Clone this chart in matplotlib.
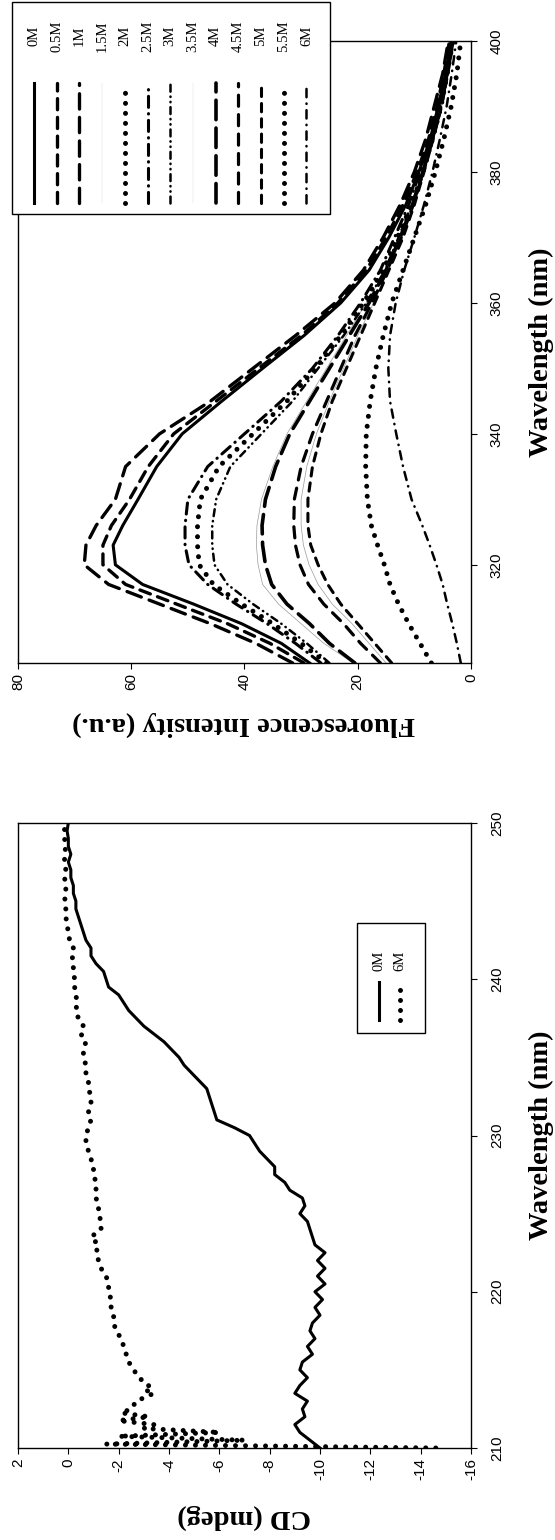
import numpy as np
import matplotlib.pyplot as plt
from matplotlib.lines import Line2D
from matplotlib.patches import Rectangle

plt.rcParams['font.family'] = ['Liberation Sans Narrow', 'Liberation Sans', 'DejaVu Sans']
plt.rcParams['font.size'] = 11
plt.rcParams['axes.unicode_minus'] = False
plt.rcParams['lines.scale_dashes'] = False

SERIF = ['Liberation Serif', 'DejaVu Serif']

# ---- fluorescence emission spectra (urea series) ----
fl_wl = [305, 308, 311, 314, 317, 320, 323, 326, 330, 335, 340, 345,
         350, 355, 360, 365, 370, 375, 380, 385, 390, 395, 400]

fl_0M = [28.5, 33.5, 40.5, 49, 58, 62.8, 63.2, 61.5, 58.8, 55.5, 51, 44,
         36.8, 29.5, 23, 18, 14.5, 11.5, 9.2, 7.2, 5.8, 4.5, 3.5]
fl_05M = [29.5, 35.5, 43, 52, 61, 65, 65, 63.5, 60.3, 57, 52.5, 45,
          37.5, 30, 23.5, 18.5, 15, 12, 9.5, 7.5, 6, 4.8, 3.8]
fl_1M = [31.5, 38, 46, 55, 64, 68.3, 68, 66.2, 62.8, 61, 55, 46,
         38.5, 31, 24, 19, 15.5, 12.5, 10, 8, 6.5, 5, 4]
fl_15M = [20.8, 26, 30, 34, 36.8, 37.6, 37.9, 37.8, 37, 35, 32.5, 29,
          25.5, 22, 18.5, 15, 12.5, 10.3, 8.5, 6.8, 5.3, 4.2, 3.2]
fl_2M = [25.5, 30, 35, 40.5, 45.5, 48, 48.3, 48.3, 47.8, 44.5, 38.5, 32.5,
         27.5, 23, 19, 15.5, 13, 10.5, 8.5, 6.8, 5.3, 4.2, 3.2]
fl_25M = [26.5, 31, 36, 41.5, 46.5, 49.8, 50.5, 50.5, 50, 46.5, 40, 33.5,
          28, 23.5, 19.5, 16, 13.5, 11, 9, 7, 5.5, 4.3, 3.3]
fl_3M = [25, 29, 33.5, 38.5, 43, 45.3, 45.7, 45.7, 45, 42.5, 37, 31.5,
         27, 22.5, 18.5, 15.2, 12.8, 10.5, 8.5, 6.8, 5.3, 4.2, 3.2]
fl_35M = [15, 18, 21, 24.5, 27, 28.6, 29.6, 30, 30, 29, 27.3, 25,
          22.5, 20, 17.2, 14.6, 12.2, 10.1, 8.3, 6.7, 5.2, 4.1, 3.1]
fl_4M = [20.5, 25, 28.5, 32.5, 35.2, 36.3, 36.8, 36.9, 36.3, 34.5, 32, 28.5,
         25, 21.5, 18, 15, 12.5, 10.3, 8.5, 6.8, 5.3, 4.2, 3.2]
fl_45M = [16, 19.5, 22.5, 26, 28.7, 30.2, 31, 31.3, 31.2, 30, 28, 25.5,
          23, 20.5, 17.5, 14.8, 12.3, 10.2, 8.4, 6.8, 5.3, 4.2, 3.2]
fl_5M = [14, 17, 20, 23, 25.3, 27, 28.3, 28.8, 28.8, 28, 26.5, 24.5,
         22, 19.5, 17, 14.5, 12, 10, 8.3, 6.7, 5.2, 4.1, 3.1]
fl_55M = [7, 9, 11, 12.8, 14.3, 15.3, 16.5, 17.6, 18.3, 18.6, 18.5, 17.8,
          16.8, 15.5, 14, 12, 10, 8, 6.3, 4.8, 3.5, 2.5, 1.8]
fl_6M = [1.8, 2.5, 3.3, 4.2, 5, 6.1, 7.3, 8.6, 10.5, 12, 13.2, 14.3,
         14.6, 14.3, 13.3, 11.8, 10, 8.3, 6.8, 5.5, 4.3, 3.4, 2.6]

fl_labels = ['0M', '0.5M', '1M', '1.5M', '2M', '2.5M', '3M', '3.5M',
             '4M', '4.5M', '5M', '5.5M', '6M']
fl_series = [fl_0M, fl_05M, fl_1M, fl_15M, fl_2M, fl_25M, fl_3M, fl_35M,
             fl_4M, fl_45M, fl_5M, fl_55M, fl_6M]

# ---- far-UV CD spectra ----
cd_wl_0M = np.arange(210, 250.5, 0.5)
cd_0M = [-10.0, -9.6, -9.2, -9.0, -9.4, -9.3, -9.5, -9.0, -9.2, -9.5,
         -9.2, -9.3, -9.7, -9.5, -9.8, -9.6, -9.7, -10.0, -9.8, -10.1,
         -9.8, -10.2, -9.9, -10.2, -9.9, -10.2, -9.8, -9.7, -9.6, -9.5,
         -9.2, -9.4, -9.3, -8.8, -8.6, -8.2, -8.2, -7.9, -7.6, -7.4,
         -7.2, -6.6, -5.9, -5.8, -5.7, -5.6, -5.5, -5.2, -4.9, -4.6,
         -4.4, -4.1, -3.8, -3.4, -3.0, -2.7, -2.4, -2.2, -2.0, -1.6,
         -1.5, -1.4, -1.1, -0.9, -0.9, -0.7, -0.6, -0.5, -0.4, -0.3,
         -0.3, -0.2, -0.2, -0.1, -0.1, 0.0, -0.1, 0.0, 0.0, 0.05, 0.0]

cd_wl_6M = [210.0, 210.25, 210.5, 210.75, 211.0, 211.25, 211.5, 211.75,
            212.0, 212.25, 212.5, 213.0, 213.5, 213.75, 214.0, 214.5,
            215.0, 215.5, 216.0, 216.5, 217.0, 217.5, 218.0, 218.5, 219.0,
            219.5, 220.0, 220.5, 221.0, 221.5, 222.0, 222.5, 223.0, 223.5,
            224.0, 224.5, 225.0, 225.5, 226.0, 226.5, 227.0, 227.5, 228.0,
            228.5, 229.0, 229.5, 230.0, 230.5, 231.0, 231.5, 232.0, 232.5,
            233.0, 233.5, 234.0, 234.5, 235.0, 235.5, 236.0, 236.5, 237.0,
            237.5, 238.0, 238.5, 239.0, 239.5, 240.0, 240.5, 241.0, 241.5,
            242.0, 242.5, 243.0, 243.5, 244.0, 244.5, 245.0, 245.5, 246.0,
            246.5, 247.0, 247.5, 248.0, 248.5, 249.0, 249.5, 250.0]
cd_6M = [-14.6, -1.5, -7.0, -2.0, -6.0, -3.0, -3.4, -2.0,
         -3.2, -2.1, -2.5, -2.7, -3.4, -3.0, -3.2, -2.8,
         -2.6, -2.4, -2.3, -2.2, -2.1, -1.9, -1.8, -1.8, -1.7,
         -1.7, -1.6, -1.6, -1.5, -1.3, -1.2, -1.1, -1.2, -0.9,
         -1.3, -1.3, -1.2, -1.2, -1.1, -1.1, -1.1, -1.0, -1.0,
         -0.9, -0.8, -0.7, -0.7, -0.8, -0.9, -0.8, -0.9, -0.9,
         -0.8, -0.8, -0.7, -0.7, -0.6, -0.6, -0.7, -0.5, -0.6,
         -0.4, -0.3, -0.35, -0.3, -0.25, -0.25, -0.2, -0.2, -0.15,
         -0.2, -0.05, 0.0, 0.05, 0.1, 0.1, 0.15, 0.1, 0.1,
         0.15, 0.1, 0.15, 0.15, 0.1, 0.15, 0.15, 0.15]

# line styles, dash lengths in points
DOT = dict(color='black', lw=3.6, ls=(0, (0.01, 7.2)), dash_capstyle='round')
THIN = dict(color='#9a9a9a', lw=0.5, ls='-')
styles = [
    dict(color='black', lw=2.2, ls='-'),
    dict(color='black', lw=2.4, ls=(0, (8, 5.5)), dash_capstyle='round'),
    dict(color='black', lw=2.4, ls=(0, (11, 6)), dash_capstyle='round'),
    THIN,
    DOT,
    dict(color='black', lw=2.2, ls=(0, (8, 4.5, 0.3, 4.5)), dash_capstyle='round'),
    dict(color='black', lw=1.8, ls=(0, (5, 3.5, 0.3, 3.5, 0.3, 3.5)), dash_capstyle='round'),
    THIN,
    dict(color='black', lw=2.6, ls=(0, (14, 6)), dash_capstyle='round'),
    dict(color='black', lw=2.3, ls=(0, (8, 6)), dash_capstyle='round'),
    dict(color='black', lw=2.2, ls=(0, (6, 5)), dash_capstyle='round'),
    DOT,
    dict(color='black', lw=1.8, ls=(0, (6, 4.5, 0.3, 4.5)), dash_capstyle='round'),
]
# the faint 1.5M / 3.5M traces barely show in the key
FAINT = dict(color='#dddddd', lw=0.3, ls='-')
key_styles = [FAINT if st is THIN else st for st in styles]

W, H = 555, 1540


def fx(px):
    return px / W


def fy(py):
    return 1 - py / H


def frame(ax):
    for s in ax.spines.values():
        s.set_linewidth(1.0)
    ax.yaxis.tick_right()
    ax.tick_params(axis='x', direction='out', length=4.5, width=0.8, pad=3,
                   labelrotation=90)
    ax.tick_params(axis='y', direction='out', length=4.5, width=0.8, pad=9,
                   labelrotation=90, left=False, right=True)
    for lab in ax.get_yticklabels():
        lab.set_verticalalignment('center')


def legend(fig, box, xs, y_top, y_bot, y_text, labels, lstyles):
    x0, y0, x1, y1 = box
    fig.add_artist(Rectangle((fx(x0), fy(y1)), fx(x1) - fx(x0), (y1 - y0) / H,
                             transform=fig.transFigure, facecolor='white',
                             edgecolor='black', lw=1.0, zorder=5))
    for x, lab, st in zip(xs, labels, lstyles):
        fig.add_artist(Line2D([fx(x), fx(x)], [fy(y_bot), fy(y_top)],
                              transform=fig.transFigure, zorder=6, **st))
        fig.text(fx(x), fy(y_text), lab, rotation=90, ha='center', va='center',
                 family=SERIF, fontsize=10.5, zorder=6)


fig = plt.figure(figsize=(W / 100, H / 100), dpi=100)

# top: fluorescence, intensity runs right-to-left, wavelength bottom-to-top
ax1 = fig.add_axes([fx(18), fy(663), fx(471) - fx(18), (663 - 41) / H])
for vals, st in zip(fl_series, styles):
    ax1.plot(vals, fl_wl, **st)
ax1.set_xlim(80, 0)
ax1.set_ylim(305, 400)
ax1.set_xticks([0, 20, 40, 60, 80])
ax1.set_yticks([320, 340, 360, 380, 400])
frame(ax1)

fig.text(fx(244), fy(724), 'Fluorescence Intensity (a.u.)', rotation=180,
         ha='center', va='center', family=SERIF, fontweight='bold', fontsize=20.5)
fig.text(fx(541), fy(352), 'Wavelength (nm)', rotation=90,
         ha='center', va='center', family=SERIF, fontweight='bold', fontsize=20.5)

col_x = [34 + 22.7 * i for i in range(len(fl_labels))]
legend(fig, (12, 2, 330, 214), col_x, 83, 203, 36, fl_labels, key_styles)

# bottom: CD spectra
ax2 = fig.add_axes([fx(18), fy(1448), fx(471) - fx(18), (1448 - 823) / H])
ax2.plot(cd_0M, cd_wl_0M, **styles[0])
ax2.plot(cd_6M, cd_wl_6M, **DOT)
ax2.set_xlim(2, -16)
ax2.set_ylim(210, 250)
ax2.set_xticks(np.arange(-16, 3, 2))
ax2.set_yticks([210, 220, 230, 240, 250])
frame(ax2)

fig.text(fx(244), fy(1517), 'CD (mdeg)', rotation=180,
         ha='center', va='center', family=SERIF, fontweight='bold', fontsize=20.5)
fig.text(fx(541), fy(1135), 'Wavelength (nm)', rotation=90,
         ha='center', va='center', family=SERIF, fontweight='bold', fontsize=20.5)

legend(fig, (357, 923, 425, 1033), [379, 400], 982, 1020, 961,
       ['0M', '6M'], [styles[0], DOT])

fig.savefig('out.png', dpi=100, facecolor='white')
